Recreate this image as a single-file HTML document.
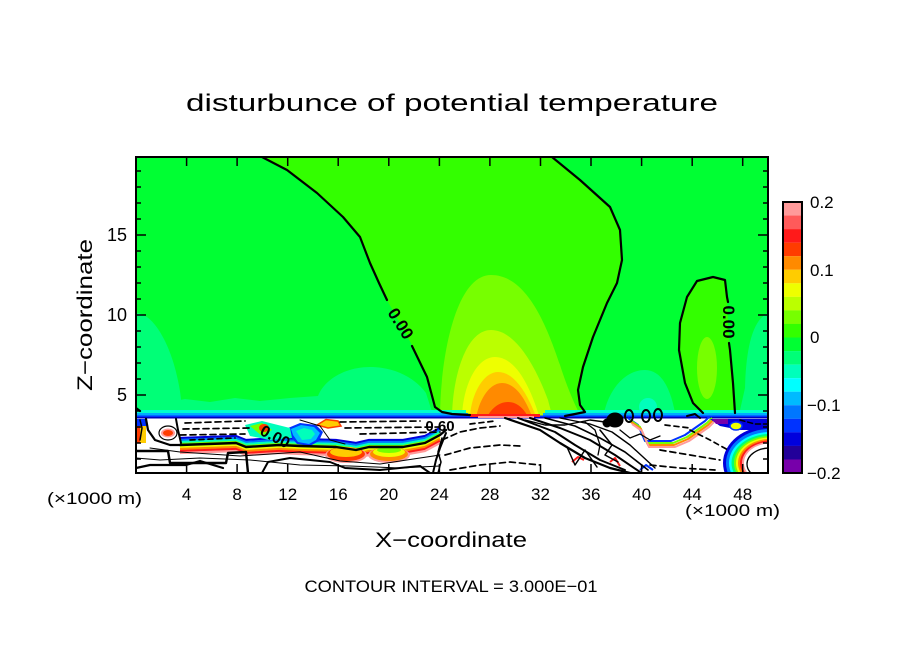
<!DOCTYPE html>
<html>
<head>
<meta charset="utf-8">
<style>
  html,body{margin:0;padding:0;background:#fff;}
  svg{display:block;}
  text{font-family:"Liberation Sans",sans-serif;fill:#000;}
</style>
</head>
<body>
<svg width="904" height="654" viewBox="0 0 904 654" xmlns="http://www.w3.org/2000/svg">
<rect width="904" height="654" fill="#fff"/>
<defs>
  <clipPath id="c"><rect x="136" y="157" width="632" height="316"/></clipPath>
</defs>

<g clip-path="url(#c)">
  <!-- base field -->
  <rect x="136" y="157" width="632" height="262" fill="#33ff00"/>
  <!-- left of contour A -->
  <path d="M136,157 L262,157 L287,170 L317,193 L343,217 L360,237 L370,263 L379,283 L388,302 L400,323 L413,347 L427,377 L435,407 L442,412 L452,414 L452,419 L136,419 Z" fill="#00ff33"/>
  <!-- right of contour B -->
  <path d="M552,157 L580,180 L610,207 L620,230 L622,260 L617,283 L607,303 L593,337 L583,367 L578,390 L580,405 L585,412 L565,416 L565,419 L768,419 L768,157 Z" fill="#00ff33"/>
  <!-- ellipse C interior -->
  <path d="M703,414 L693,403 L685,383 L679,350 L680,323 L687,297 L697,281 L713,277 L725,280 L727,297 L728,322 L730,350 L733,383 L735,414 Z" fill="#33ff00"/>
  <ellipse cx="707" cy="368" rx="10" ry="31" fill="#77ff00"/>

  <!-- negative patches -->
  <path d="M136,313 C152,313 168,340 176,372 C181,392 182,405 182,419 L136,419 Z" fill="#00ff77"/>
  <path d="M136,419 L136,402 L160,404 L185,399 L210,402 L235,398 L260,401 L290,398 L318,396 C324,380 345,367 370,367 C395,367 415,378 426,393 L432,412 L432,419 Z" fill="#00ff77"/>
  <path d="M603,419 C606,395 622,370 645,370 C663,370 672,392 676,419 Z" fill="#00ff77"/>
  <ellipse cx="648" cy="407" rx="9" ry="9" fill="#00ffbb"/>
  <path d="M768,313 C752,320 746,350 745,388 L738,419 L768,419 Z" fill="#00ff77"/>
  <path d="M560,419 L565,410 L590,410 L600,419 Z" fill="#00ff77"/>

  <!-- plume -->
  <path d="M440,419 C440,360 455,275 491,275 C525,275 545,320 560,365 C568,390 575,405 582,419 Z" fill="#77ff00"/>
  <path d="M452,419 C452,380 465,330 491,330 C515,330 535,365 548,400 L553,419 Z" fill="#bbff00"/>
  <path d="M462,419 C462,390 475,357 495,357 C515,357 530,385 540,419 Z" fill="#eeff00"/>
  <path d="M470,419 C470,398 482,372 498,372 C515,372 528,395 537,419 Z" fill="#ffcc00"/>
  <path d="M476,419 C478,403 488,383 502,383 C516,383 526,400 533,419 Z" fill="#ff8a00"/>
  <path d="M486,419 C490,410 498,402 508,402 C518,402 525,410 529,419 Z" fill="#ff3c00"/>

  <!-- bands above white region -->
  <rect x="136" y="410" width="330" height="4" fill="#00ffcc"/>
  <rect x="545" y="410" width="223" height="4" fill="#00ffcc"/>
  <rect x="136" y="413" width="332" height="3" fill="#00aaff"/>
  <rect x="543" y="413" width="225" height="3" fill="#00aaff"/>
  <rect x="136" y="415.5" width="632" height="2" fill="#0033ff"/>
  <rect x="136" y="417" width="632" height="1.5" fill="#0000bb"/>
  <rect x="470" y="414" width="70" height="3" fill="#ff1a1a"/>
  <rect x="478" y="416" width="56" height="2" fill="#ff9a9a"/>

  <!-- white region -->
  <rect x="136" y="418.5" width="632" height="56" fill="#fff"/>

  <!-- colored features left -->
  <rect x="136" y="419" width="10" height="7" fill="#0033ff"/>
  <rect x="136" y="426" width="10" height="17" fill="#ffcc00"/>
  <rect x="136" y="426" width="4" height="17" fill="#ff3c00"/>
  <ellipse cx="168" cy="433" rx="7" ry="4.5" fill="#ff9a9a"/>
  <ellipse cx="168" cy="433" rx="5" ry="3" fill="#ff3c00"/>

  <g fill="none" stroke-width="2.2" stroke-linejoin="round">
    <path d="M180,445 L236,443 L246,447 L279,445 L300,446 L336,447 L356,450 L369,447 L403,447 L425,443 L440,435" stroke="#0000dd" transform="translate(0,-7)"/>
    <path d="M180,445 L236,443 L246,447 L279,445 L300,446 L336,447 L356,450 L369,447 L403,447 L425,443 L440,435" stroke="#0077ff" transform="translate(0,-5)"/>
    <path d="M180,445 L236,443 L246,447 L279,445 L300,446 L336,447 L356,450 L369,447 L403,447 L425,443 L440,435" stroke="#00ffbb" transform="translate(0,-3)"/>
    <path d="M180,445 L236,443 L246,447 L279,445 L300,446 L336,447 L356,450 L369,447 L403,447 L425,443 L440,435" stroke="#77ff00" transform="translate(0,-1)"/>
    <path d="M180,445 L236,443 L246,447 L279,445 L300,446 L336,447 L356,450 L369,447 L403,447 L425,443 L440,435" stroke="#eeff00" transform="translate(0,2)"/>
    <path d="M180,445 L236,443 L246,447 L279,445 L300,446 L336,447 L356,450 L369,447 L403,447 L425,443 L440,435" stroke="#ff8a00" transform="translate(0,4)"/>
    <path d="M180,445 L236,443 L246,447 L279,445 L300,446 L336,447 L356,450 L369,447 L403,447 L425,443 L440,435" stroke="#ff1a1a" transform="translate(0,6)"/>
    <path d="M180,445 L236,443 L246,447 L279,445 L300,446 L336,447 L356,450 L369,447 L403,447 L425,443 L440,435" stroke="#ff9a9a" transform="translate(0,8)"/>
  </g>
  <!-- warm blobs under band -->
  <ellipse cx="346" cy="455" rx="21" ry="8" fill="#ff9a9a"/>
  <ellipse cx="346" cy="454" rx="19" ry="7" fill="#ff3c00"/>
  <ellipse cx="346" cy="452" rx="16" ry="5" fill="#ffcc00"/>
  <ellipse cx="389" cy="455" rx="21" ry="8" fill="#ff9a9a"/>
  <ellipse cx="389" cy="454" rx="19" ry="7" fill="#ff8a00"/>
  <ellipse cx="389" cy="452" rx="16" ry="5" fill="#eeff00"/>
  <ellipse cx="389" cy="450" rx="12" ry="3" fill="#77ff00"/>
  <!-- cyan blob -->
  <path d="M288,428 L300,423 L316,425 L323,432 L319,441 L310,446 L297,444 L290,436 Z" fill="#0033ff"/>
  <path d="M291,429 L301,425 L314,427 L320,433 L316,440 L309,444 L298,442 L293,435 Z" fill="#00bbff"/>
  <path d="M296,431 L304,428 L312,430 L315,434 L311,439 L302,440 Z" fill="#00ffbb"/>
  <path d="M245,425 L262,421 L290,428 L292,438 L270,440 L250,436 Z" fill="#00ffbb"/>
  <path d="M250,426 L262,423 L272,430 L262,436 Z" fill="#77ff00"/>
  <ellipse cx="264" cy="428" rx="5" ry="4" fill="#ff3c00"/>
  <path d="M317,425 L326,419.5 L338,421 L341,426 L328,428 Z" fill="#ffcc00" stroke="#ff3c00" stroke-width="1.5"/>

  <!-- colored features right -->
  <g fill="none" stroke-linejoin="round" stroke-width="2">
    <path d="M630,420 L640,427 L647,443 L673,443 L687,437 L707,423 L712,418" stroke="#0033ff" transform="translate(-2,-2)"/>
    <path d="M630,420 L640,427 L647,443 L673,443 L687,437 L707,423 L712,418" stroke="#77ff00"/>
    <path d="M630,420 L640,427 L647,443 L673,443 L687,437 L707,423 L712,418" stroke="#ff8a00" transform="translate(1,2)"/>
    <path d="M630,420 L640,427 L647,443 L673,443 L687,437 L707,423 L712,418" stroke="#ff9a9a" transform="translate(2,4)"/>
    <path d="M572,462 L578,457 L584,460" stroke="#ff1a1a"/>
    <path d="M610,462 L615,458 L620,466" stroke="#ff1a1a"/>
    <path d="M640,470 L646,465 L653,470" stroke="#0033ff"/>
  </g>
  <path d="M710,419 L768,419 L768,430 L740,430 L720,426 Z" fill="#0000dd"/>
  <path d="M712,419 L728,419 L728,424 L716,424 Z" fill="#7700aa"/>
  <ellipse cx="736" cy="426" rx="6" ry="4" fill="#eeff00" stroke="#0033ff" stroke-width="1.5"/>
  <!-- rainbow rings bottom right -->
  <ellipse cx="770" cy="463" rx="47" ry="37" fill="#0000dd"/>
  <ellipse cx="770" cy="463" rx="44" ry="34" fill="#0077ff"/>
  <ellipse cx="770" cy="463" rx="41" ry="31" fill="#00ffff"/>
  <ellipse cx="770" cy="463" rx="38.5" ry="29" fill="#00ff77"/>
  <ellipse cx="770" cy="463" rx="36" ry="27" fill="#77ff00"/>
  <ellipse cx="770" cy="463" rx="34" ry="25.5" fill="#eeff00"/>
  <ellipse cx="770" cy="463" rx="32" ry="24" fill="#ff8a00"/>
  <ellipse cx="770" cy="463" rx="30" ry="22.5" fill="#ff1a1a"/>
  <ellipse cx="770" cy="463" rx="28" ry="21" fill="#ff9a9a"/>
  <ellipse cx="770" cy="463" rx="26" ry="19.5" fill="#fff"/>
  <ellipse cx="770" cy="464" rx="23" ry="16" fill="none" stroke="#000" stroke-width="1.3"/>

  <!-- black contours in lower region -->
  <g fill="none" stroke="#000" stroke-linejoin="round" stroke-linecap="round">
    <!-- thick zero line on the band -->
    <path d="M180,445 L236,443 L246,447 L279,445 L300,446 L336,447 L356,450 L369,447 L403,447 L425,443 L440,435 L446,430" stroke-width="2.4"/>
    <!-- left shapes -->
    <path d="M146,419 L148,430 L155,440 L170,445 L180,445" stroke-width="2.2"/>
    <path d="M176,419 L178,430 L181,443" stroke-width="2"/>
    <ellipse cx="168" cy="433" rx="9" ry="7" stroke-width="1.2"/>
    <path d="M140,420 L142,428 L140,440" stroke-width="1.5"/>
    <!-- thick lower line -->
    <path d="M136,451 L168,451 L170,463 L226,463 L228,453 L246,452 L248,473" stroke-width="2.4"/>
    <path d="M136,468 L150,465 L186,465 L200,461 L223,468" stroke-width="2.2"/>
    <path d="M262,473 L268,462 L290,458 L330,462 L345,468 L380,470 L420,466 L430,473" stroke-width="2"/>
    <!-- thin lines -->
    <path d="M150,448 L180,452 L240,456 L300,452 L340,461 L380,464 L420,458 L440,455" stroke-width="1"/>
    <path d="M136,458 L160,460 L200,458 L250,460 L300,465 L350,466 L400,468 L440,466" stroke-width="1"/>
    <path d="M300,420 L320,426 L330,440 L345,444" stroke-width="1"/>
    <!-- vertical jagged near x=24 -->
    <path d="M446,433 L440,448 L436,460 L433,473" stroke-width="2"/>
    <path d="M442,438 L438,452 L441,462 L438,473" stroke-width="1.5"/>
    <!-- dashed negatives left -->
    <path d="M185,423 L245,421 M340,422 L420,421" stroke-width="1.7" stroke-dasharray="6 4"/>
    <path d="M183,429 L250,428 M345,428 L440,427" stroke-width="1.7" stroke-dasharray="6 4"/>
    <path d="M180,435 L245,434 M360,434 L440,432" stroke-width="1.7" stroke-dasharray="6 4"/>
    <path d="M190,440 L235,438" stroke-width="1.7" stroke-dasharray="5 4"/>

    <!-- right side frontal band -->
    <path d="M505,418 L540,430 L560,443 L585,458 L610,468 L630,473" stroke-width="2.2"/>
    <path d="M518,418 L555,432 L575,445 L600,460 L625,470" stroke-width="2"/>
    <path d="M530,418 L560,428 L590,440 L615,455 L640,472" stroke-width="2"/>
    <path d="M545,418 L575,426 L600,438 L625,452 L648,470" stroke-width="1.6"/>
    <path d="M560,418 L590,424 L612,432 L630,445 L655,468" stroke-width="1.4"/>
    <path d="M525,420 L545,425 L565,425 L590,420 L605,422" stroke-width="1.4"/>
    <path d="M567,447 L575,465 L585,450 L597,467" stroke-width="1.5"/>
    <path d="M600,430 L612,445 L605,455 L618,462" stroke-width="1.5"/>
    <path d="M620,430 L630,438 L640,434 L650,440 L660,436" stroke-width="1.3"/>
    <path d="M585,422 L595,430 L600,445 L598,455" stroke-width="1.3"/>
    <!-- blob and ovals -->
    <ellipse cx="615" cy="420" rx="8" ry="7" fill="#000" stroke-width="1"/>
    <ellipse cx="607" cy="423" rx="4" ry="4" fill="#000" stroke-width="1"/>
    <ellipse cx="629" cy="416" rx="4" ry="6" stroke-width="2"/>
    <ellipse cx="646" cy="416" rx="4" ry="6" stroke-width="2"/>
    <ellipse cx="658" cy="415" rx="4" ry="6" stroke-width="2"/>
    <path d="M687,416 L695,414 L700,418" stroke-width="2"/>
    <!-- dashed right -->
    <path d="M442,440 L460,432 L480,428 L500,426" stroke-width="1.7" stroke-dasharray="6 4"/>
    <path d="M445,455 L470,448 L500,445 L520,446" stroke-width="1.7" stroke-dasharray="6 4"/>
    <path d="M450,470 L480,465 L510,462 L540,465" stroke-width="1.7" stroke-dasharray="6 4"/>
    <path d="M470,424 L495,421" stroke-width="1.7" stroke-dasharray="5 4"/>
    <path d="M660,450 L690,455 L720,460" stroke-width="1.7" stroke-dasharray="6 4"/>
    <path d="M650,465 L680,468 L715,470" stroke-width="1.7" stroke-dasharray="6 4"/>
    <path d="M690,430 L710,440 L728,450" stroke-width="1.7" stroke-dasharray="5 4"/>
    <path d="M665,425 L690,428" stroke-width="1.7" stroke-dasharray="5 4"/>
    <path d="M740,420 L755,424 L768,424" stroke-width="1.5" stroke-dasharray="5 3"/>
  </g>

  <!-- upper contours -->
  <g fill="none" stroke="#000" stroke-width="2.2" stroke-linejoin="round" stroke-linecap="round">
    <path d="M262,157 L287,170 L317,193 L343,217 L360,237 L370,263 L379,283 L387,300"/>
    <path d="M412,346 L427,377 L435,407 L442,412 L452,414 L470,415"/>
    <path d="M552,157 L580,180 L610,207 L620,230 L622,260 L617,283 L607,303 L593,337 L583,367 L578,390 L580,405 L585,412 L565,416"/>
    <path d="M728,302 L727,297 L725,280 L713,277 L697,281 L687,297 L680,323 L679,350 L685,383 L693,403 L703,413"/>
    <path d="M729,343 L730,350 L733,383 L735,413"/>
    <path d="M136,408 L140,411"/>
  </g>
  <text x="400" y="329" font-size="17" font-weight="bold" text-anchor="middle" transform="rotate(58 400 324)">0.00</text>
  <text x="729" y="328" font-size="17" font-weight="bold" text-anchor="middle" transform="rotate(90 729 322)">0.00</text>
  <text x="275" y="442" font-size="16" font-weight="bold" text-anchor="middle" transform="rotate(28 275 437)">0.00</text>
  <text x="440" y="431" font-size="15" font-weight="bold" text-anchor="middle">0.60</text>
</g>

<!-- frame -->
<rect x="136" y="157" width="632" height="316" fill="none" stroke="#000" stroke-width="2"/>
<!-- ticks -->
<g stroke="#000" stroke-width="1.5">
  <!-- x ticks top and bottom -->
  <path d="M186.6,157 v9 M237.1,157 v9 M287.7,157 v9 M338.2,157 v9 M388.8,157 v9 M439.4,157 v9 M489.9,157 v9 M540.5,157 v9 M591,157 v9 M641.6,157 v9 M692.2,157 v9 M742.7,157 v9"/>
  <path d="M186.6,473 v-9 M237.1,473 v-9 M287.7,473 v-9 M338.2,473 v-9 M388.8,473 v-9 M439.4,473 v-9 M489.9,473 v-9 M540.5,473 v-9 M591,473 v-9 M641.6,473 v-9 M692.2,473 v-9 M742.7,473 v-9"/>
  <!-- y minor ticks left/right -->
  <path d="M136,459 h5 M136,443 h5 M136,427 h5 M136,411 h5 M136,379 h5 M136,363 h5 M136,347 h5 M136,331 h5 M136,299 h5 M136,283 h5 M136,267 h5 M136,251 h5 M136,219 h5 M136,203 h5 M136,187 h5 M136,171 h5"/>
  <path d="M768,459 h-5 M768,443 h-5 M768,427 h-5 M768,411 h-5 M768,379 h-5 M768,363 h-5 M768,347 h-5 M768,331 h-5 M768,299 h-5 M768,283 h-5 M768,267 h-5 M768,251 h-5 M768,219 h-5 M768,203 h-5 M768,187 h-5 M768,171 h-5"/>
  <path d="M136,395 h10 M136,315 h10 M136,235 h10 M768,395 h-10 M768,315 h-10 M768,235 h-10"/>
</g>

<!-- title -->
<text x="452" y="111" font-size="24" text-anchor="middle" textLength="532" lengthAdjust="spacingAndGlyphs">disturbunce of potential temperature</text>

<!-- y tick labels -->
<g font-size="18" text-anchor="end">
  <text x="127" y="241">15</text>
  <text x="127" y="321">10</text>
  <text x="127" y="401">5</text>
</g>
<text x="92" y="315" font-size="21" text-anchor="middle" textLength="152" lengthAdjust="spacingAndGlyphs" transform="rotate(-90 92 315)">Z−coordinate</text>

<!-- x tick labels -->
<g font-size="17" text-anchor="middle">
  <text x="186.6" y="500">4</text>
  <text x="237.1" y="500">8</text>
  <text x="287.7" y="500">12</text>
  <text x="338.2" y="500">16</text>
  <text x="388.8" y="500">20</text>
  <text x="439.4" y="500">24</text>
  <text x="489.9" y="500">28</text>
  <text x="540.5" y="500">32</text>
  <text x="591" y="500">36</text>
  <text x="641.6" y="500">40</text>
  <text x="692.2" y="500">44</text>
  <text x="742.7" y="500">48</text>
</g>
<text x="47" y="504" font-size="17" textLength="95" lengthAdjust="spacingAndGlyphs">(×1000 m)</text>
<text x="685" y="516" font-size="17" textLength="95" lengthAdjust="spacingAndGlyphs">(×1000 m)</text>
<text x="451" y="547" font-size="21" text-anchor="middle" textLength="152" lengthAdjust="spacingAndGlyphs">X−coordinate</text>
<text x="451" y="592" font-size="17" text-anchor="middle" textLength="293" lengthAdjust="spacingAndGlyphs">CONTOUR INTERVAL = 3.000E−01</text>

<!-- colorbar -->
<g>
  <rect x="783" y="202" width="19" height="13.6" fill="#ff9a9a"/>
  <rect x="783" y="215.55" width="19" height="13.6" fill="#ff5a5a"/>
  <rect x="783" y="229.1" width="19" height="13.6" fill="#ff1a1a"/>
  <rect x="783" y="242.65" width="19" height="13.6" fill="#ff3c00"/>
  <rect x="783" y="256.2" width="19" height="13.6" fill="#ff8a00"/>
  <rect x="783" y="269.75" width="19" height="13.6" fill="#ffcc00"/>
  <rect x="783" y="283.3" width="19" height="13.6" fill="#eeff00"/>
  <rect x="783" y="296.85" width="19" height="13.6" fill="#bbff00"/>
  <rect x="783" y="310.4" width="19" height="13.6" fill="#77ff00"/>
  <rect x="783" y="323.95" width="19" height="13.6" fill="#33ff00"/>
  <rect x="783" y="337.5" width="19" height="13.6" fill="#00ff33"/>
  <rect x="783" y="351.05" width="19" height="13.6" fill="#00ff77"/>
  <rect x="783" y="364.6" width="19" height="13.6" fill="#00ffbb"/>
  <rect x="783" y="378.15" width="19" height="13.6" fill="#00ffff"/>
  <rect x="783" y="391.7" width="19" height="13.6" fill="#00bbff"/>
  <rect x="783" y="405.25" width="19" height="13.6" fill="#0077ff"/>
  <rect x="783" y="418.8" width="19" height="13.6" fill="#0033ff"/>
  <rect x="783" y="432.35" width="19" height="13.6" fill="#0000dd"/>
  <rect x="783" y="445.9" width="19" height="13.6" fill="#220099"/>
  <rect x="783" y="459.45" width="19" height="13.55" fill="#7700aa"/>
  <rect x="783" y="202" width="19" height="271" fill="none" stroke="#000" stroke-width="2"/>
</g>
<g font-size="17">
  <text x="810" y="208">0.2</text>
  <text x="810" y="276">0.1</text>
  <text x="810" y="343">0</text>
  <text x="807" y="411">−0.1</text>
  <text x="807" y="479">−0.2</text>
</g>
</svg>
</body>
</html>
